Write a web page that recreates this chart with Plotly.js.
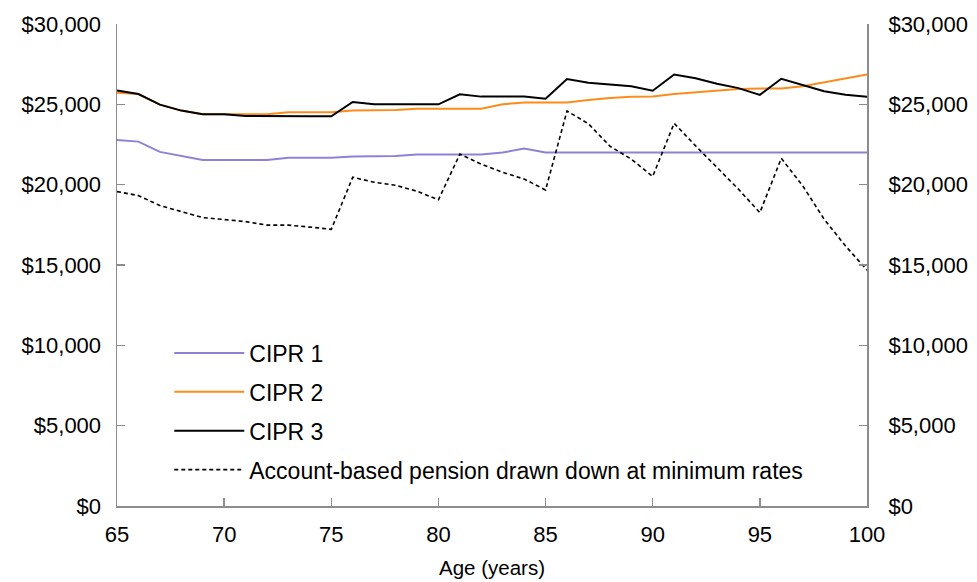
<!DOCTYPE html>
<html>
<head>
<meta charset="utf-8">
<script src="https://cdn.plot.ly/plotly-3.0.1.min.js"></script>
<style>html,body{margin:0;padding:0;background:#fff}#chart{width:977px;height:582px}</style>
</head>
<body>
<div id="chart"></div>
<script>
const ages = [65,66,67,68,69,70,71,72,73,74,75,76,77,78,79,80,81,82,83,84,85,86,87,88,89,90,91,92,93,94,95,96,97,98,99,100];
const cipr1 = [22780,22680,22040,21790,21540,21540,21540,21540,21670,21670,21670,21750,21750,21790,21880,21880,21880,21880,22000,22250,22000,22000,22000,22000,22000,22000,22000,22000,22000,22000,22000,22000,22000,22000,22000,22000];
const cipr2 = [25720,25640,24980,24610,24380,24380,24380,24380,24510,24510,24510,24610,24640,24640,24730,24730,24730,24730,25000,25120,25120,25120,25270,25400,25470,25490,25640,25740,25850,25950,25990,25990,26120,26360,26620,26860];
const cipr3 = [25860,25640,24980,24610,24380,24380,24280,24260,24260,24260,24260,25150,25000,25000,25000,25000,25620,25480,25480,25480,25350,26580,26340,26250,26120,25850,26860,26620,26280,26010,25590,26590,26220,25820,25590,25470];
const abp = [19570,19320,18700,18340,17950,17830,17700,17480,17480,17360,17220,20460,20150,19960,19590,19060,21900,21270,20770,20350,19670,24590,23790,22400,21590,20510,23820,22420,21070,19720,18260,21640,19930,17850,16180,14680];
const seriesNames = ['CIPR 1','CIPR 2','CIPR 3','Account-based pension drawn down at minimum rates'];
const xTicks = [65,70,75,80,85,90,95,100];
const yTicks = [0,5000,10000,15000,20000,25000,30000];
const yTickText = ['$0','$5,000','$10,000','$15,000','$20,000','$25,000','$30,000'];

const FONT = 'Liberation Sans, Arial, sans-serif';
const traces = [
  {x: ages, y: cipr1, name: seriesNames[0], legendgroup: 'a', line: {color: '#8d82d6', width: 2}},
  {x: ages, y: cipr2, name: seriesNames[1], legendgroup: 'b', line: {color: '#fb8c1c', width: 2}},
  {x: ages, y: cipr3, name: seriesNames[2], legendgroup: 'c', line: {color: '#000000', width: 2}},
  {x: ages, y: abp, name: seriesNames[3], legendgroup: 'd', line: {color: '#000000', width: 1.6, dash: '4px,3px'}},
  {x: ages, y: abp, yaxis: 'y2', showlegend: false, hoverinfo: 'skip', line: {color: 'rgba(0,0,0,0)', width: 0}}
].map(t => Object.assign({type: 'scatter', mode: 'lines'}, t));

const layout = {
  width: 977, height: 582,
  margin: {l: 117, r: 110, t: 24, b: 76},
  paper_bgcolor: '#fff', plot_bgcolor: '#fff',
  showlegend: true,
  legend: {
    x: 0.0697, y: 0.362, xanchor: 'left', yanchor: 'top',
    font: {family: FONT, size: 23, color: '#000'},
    bgcolor: 'rgba(0,0,0,0)', borderwidth: 0,
    traceorder: 'grouped', tracegroupgap: 6, itemwidth: 70
  },
  xaxis: {
    range: [65, 100], tickmode: 'array', tickvals: xTicks, showgrid: false, zeroline: false,
    showline: true, linecolor: '#8c8c8c', linewidth: 1.5,
    ticks: 'inside', ticklen: 8, tickcolor: '#8c8c8c', tickwidth: 1.5,
    tickfont: {family: FONT, size: 22, color: '#000'}, ticklabelstandoff: 8,
    title: {text: 'Age (years)', font: {family: FONT, size: 20.5, color: '#000'}, standoff: 14},
    fixedrange: true
  },
  yaxis: {
    range: [0, 30000], tickmode: 'array', tickvals: yTicks, ticktext: yTickText,
    side: 'left', mirror: 'ticks',
    showgrid: false, zeroline: false, showline: true, linecolor: '#8c8c8c', linewidth: 1.5,
    ticks: 'inside', ticklen: 8, tickcolor: '#8c8c8c', tickwidth: 1.5,
    tickfont: {family: FONT, size: 22, color: '#000'}, ticklabelstandoff: 10, fixedrange: true
  },
  yaxis2: {
    range: [0, 30000], tickmode: 'array', tickvals: yTicks, ticktext: yTickText,
    side: 'right', overlaying: 'y', anchor: 'x',
    showgrid: false, zeroline: false, showline: false,
    ticks: 'outside', ticklen: 16, tickcolor: 'rgba(0,0,0,0)', tickwidth: 1,
    tickfont: {family: FONT, size: 22, color: '#000'}, fixedrange: true
  }
};

Plotly.newPlot('chart', traces, layout, {displayModeBar: false, staticPlot: true});
</script>
</body>
</html>
